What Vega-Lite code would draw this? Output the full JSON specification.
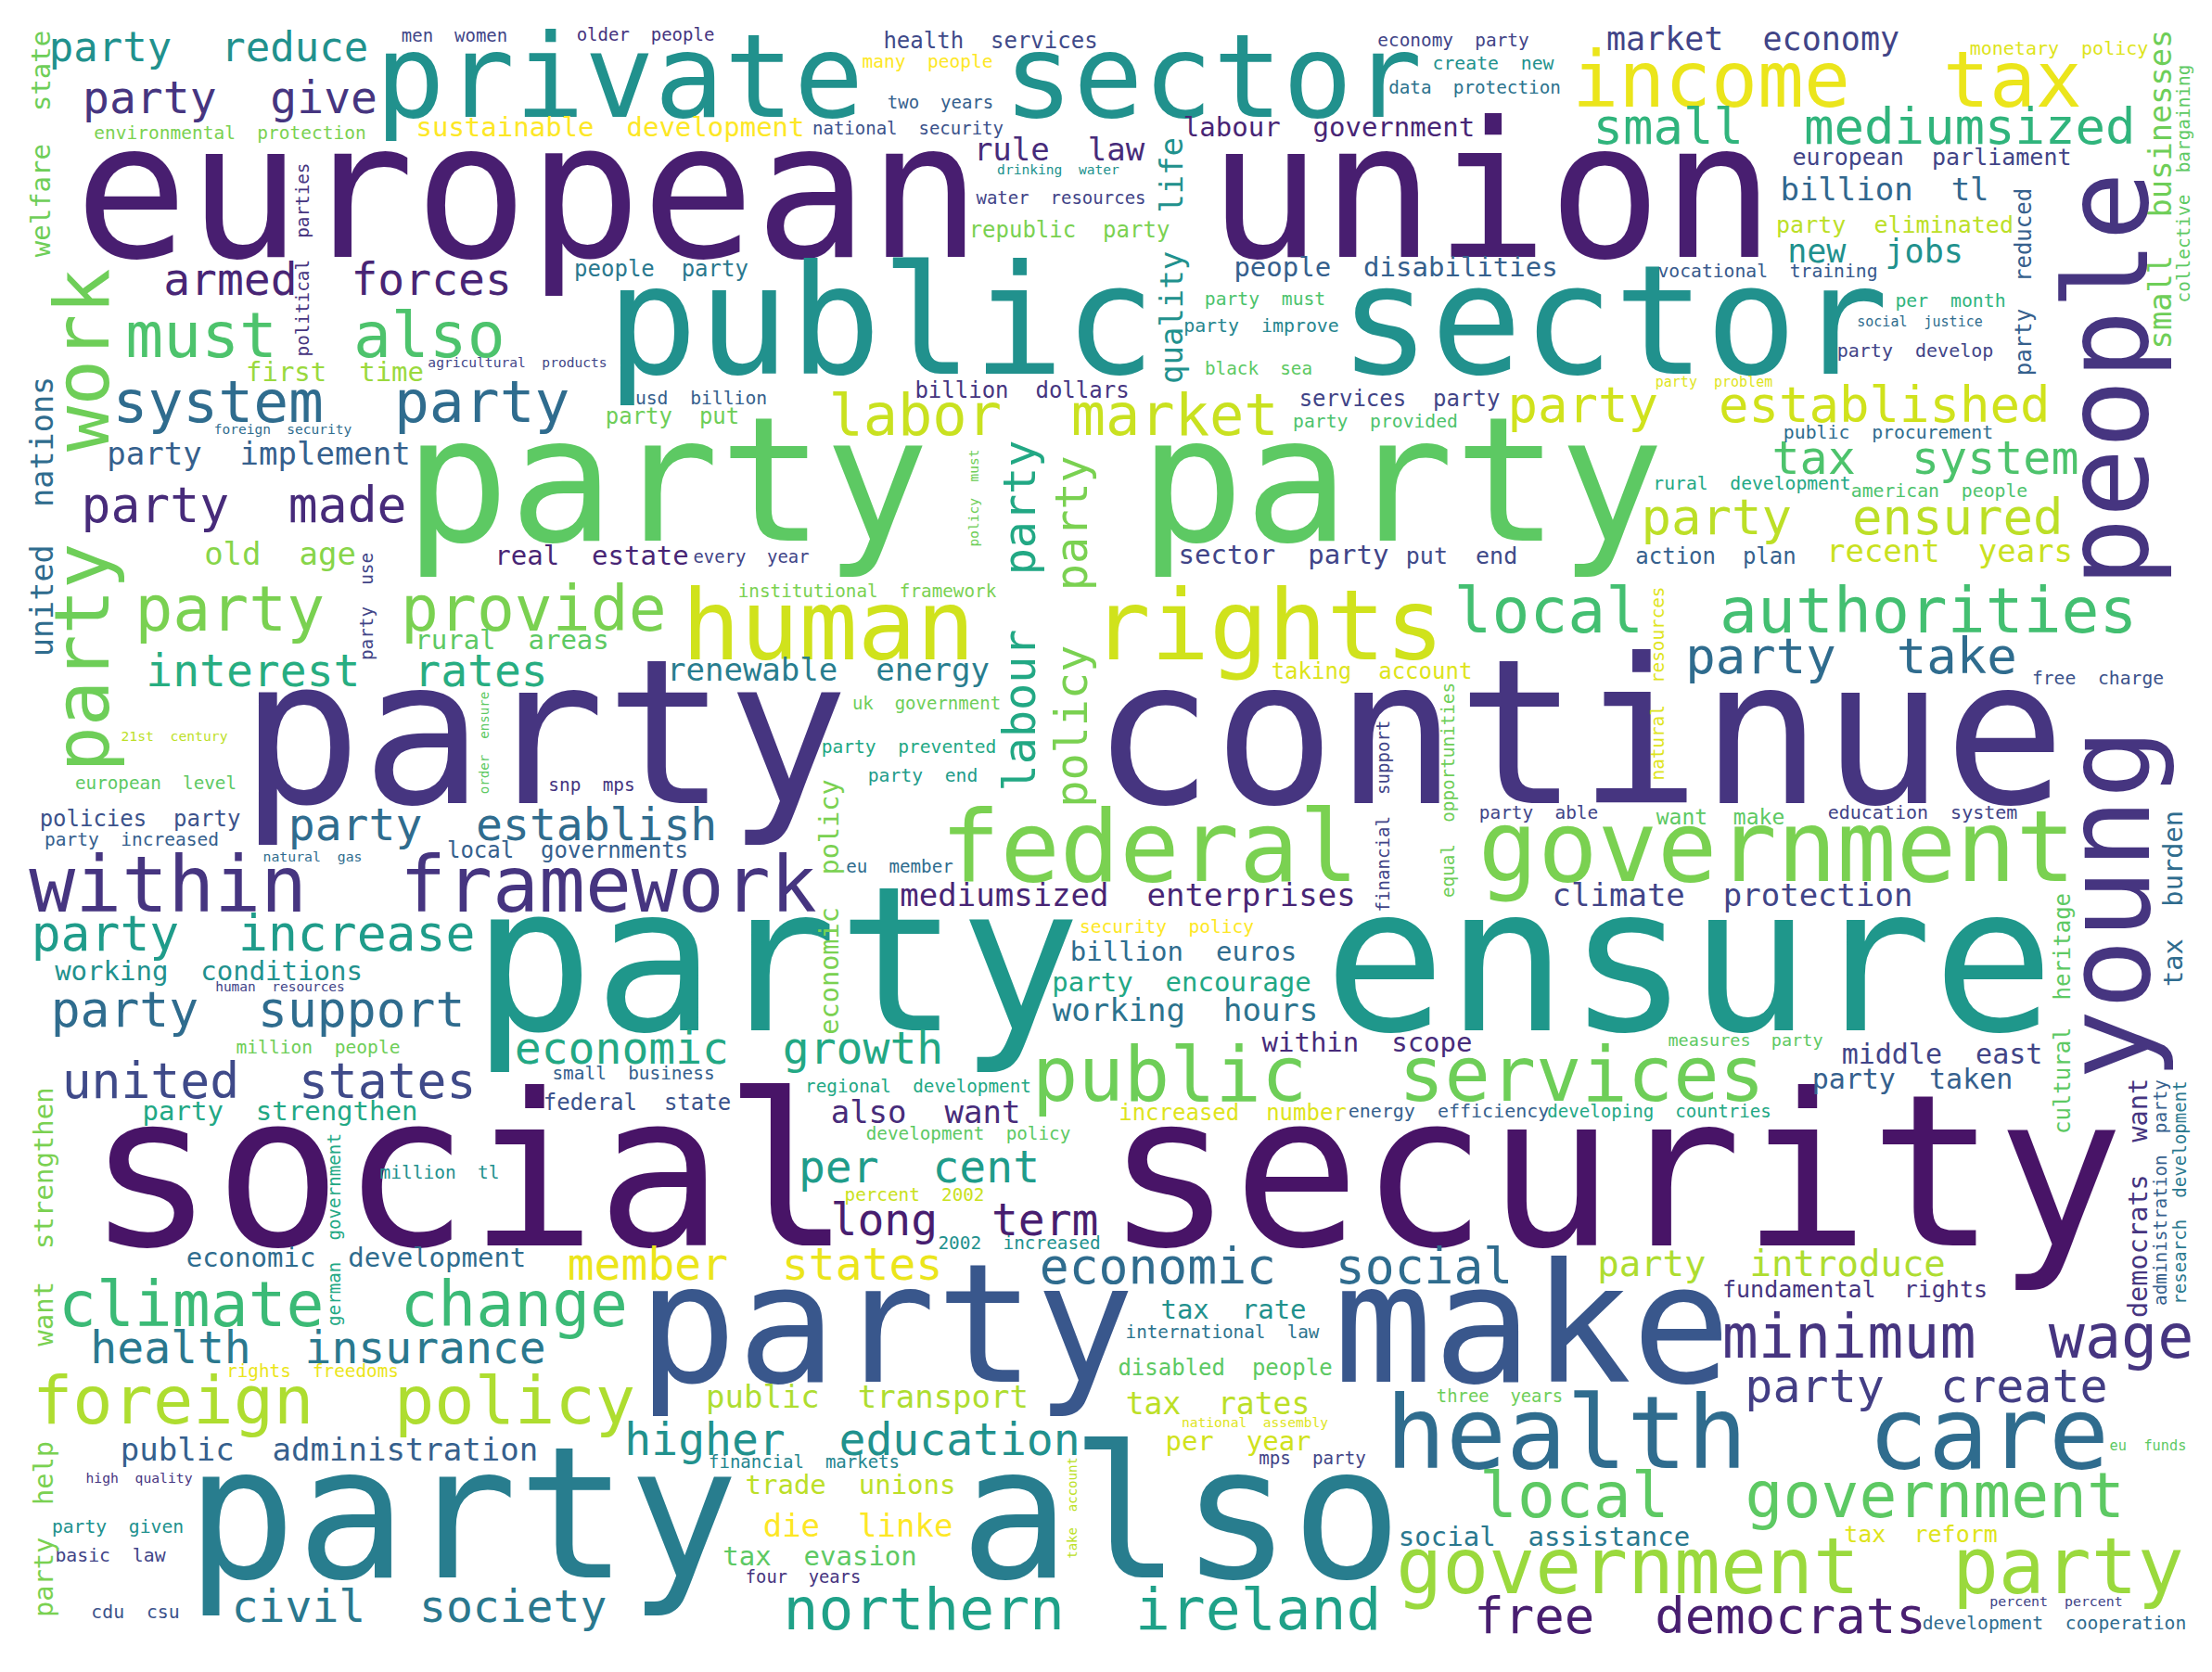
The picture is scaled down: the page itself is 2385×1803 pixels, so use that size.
{
  "$schema": "https://vega.github.io/schema/vega-lite/v6.json",
  "width": 2385,
  "height": 1803,
  "padding": 0,
  "autosize": "none",
  "background": "white",
  "data": {
    "values": [
      {"t": "european\u00a0\u00a0union", "x": 997, "y": 277, "s": 203, "c": 0.08, "r": 0},
      {"t": "private\u00a0\u00a0sector", "x": 969, "y": 126, "s": 125, "c": 0.5, "r": 0},
      {"t": "public\u00a0\u00a0sector", "x": 1345, "y": 403, "s": 164, "c": 0.5, "r": 0},
      {"t": "party\u00a0\u00a0party", "x": 1115, "y": 583, "s": 188, "c": 0.75, "r": 0},
      {"t": "party\u00a0\u00a0continue", "x": 1243, "y": 866, "s": 218, "c": 0.15, "r": 0},
      {"t": "party\u00a0\u00a0ensure", "x": 1362, "y": 1111, "s": 218, "c": 0.53, "r": 0},
      {"t": "social\u00a0\u00a0security", "x": 1192, "y": 1343, "s": 228, "c": 0.05, "r": 0},
      {"t": "party\u00a0\u00a0make", "x": 1277, "y": 1490, "s": 178, "c": 0.27, "r": 0},
      {"t": "party\u00a0\u00a0also", "x": 856, "y": 1701, "s": 198, "c": 0.42, "r": 0},
      {"t": "human\u00a0\u00a0rights", "x": 1146, "y": 711, "s": 105, "c": 0.93, "r": 0},
      {"t": "federal\u00a0\u00a0government", "x": 1626, "y": 950, "s": 107, "c": 0.8, "r": 0},
      {"t": "health\u00a0\u00a0care", "x": 1884, "y": 1583, "s": 108, "c": 0.35, "r": 0},
      {"t": "public\u00a0\u00a0services", "x": 1508, "y": 1187, "s": 82, "c": 0.78, "r": 0},
      {"t": "government\u00a0\u00a0party", "x": 1930, "y": 1718, "s": 83, "c": 0.85, "r": 0},
      {"t": "income\u00a0\u00a0tax", "x": 1970, "y": 115, "s": 83, "c": 0.97, "r": 0},
      {"t": "within\u00a0\u00a0framework", "x": 456, "y": 983, "s": 83, "c": 0.15, "r": 0},
      {"t": "foreign\u00a0\u00a0policy", "x": 360, "y": 1535, "s": 72, "c": 0.88, "r": 0},
      {"t": "minimum\u00a0\u00a0wage", "x": 2111, "y": 1464, "s": 65, "c": 0.15, "r": 0},
      {"t": "local\u00a0\u00a0government", "x": 1943, "y": 1636, "s": 68, "c": 0.75, "r": 0},
      {"t": "local\u00a0\u00a0authorities", "x": 1936, "y": 682, "s": 68, "c": 0.7, "r": 0},
      {"t": "party\u00a0\u00a0provide", "x": 432, "y": 680, "s": 68, "c": 0.8, "r": 0},
      {"t": "must\u00a0\u00a0also", "x": 340, "y": 385, "s": 68, "c": 0.72, "r": 0},
      {"t": "climate\u00a0\u00a0change", "x": 370, "y": 1430, "s": 68, "c": 0.68, "r": 0},
      {"t": "northern\u00a0\u00a0ireland", "x": 1167, "y": 1757, "s": 63, "c": 0.57, "r": 0},
      {"t": "system\u00a0\u00a0party", "x": 368, "y": 455, "s": 63, "c": 0.35, "r": 0},
      {"t": "labor\u00a0\u00a0market", "x": 1136, "y": 469, "s": 62, "c": 0.92, "r": 0},
      {"t": "free\u00a0\u00a0democrats", "x": 1833, "y": 1761, "s": 54, "c": 0.08, "r": 0},
      {"t": "party\u00a0\u00a0introduce", "x": 1910, "y": 1376, "s": 39, "c": 0.88, "r": 0},
      {"t": "party\u00a0\u00a0create", "x": 2077, "y": 1512, "s": 50, "c": 0.18, "r": 0},
      {"t": "party\u00a0\u00a0ensured", "x": 1997, "y": 576, "s": 54, "c": 0.9, "r": 0},
      {"t": "party\u00a0\u00a0established", "x": 1918, "y": 455, "s": 54, "c": 0.93, "r": 0},
      {"t": "small\u00a0\u00a0mediumsized", "x": 2010, "y": 155, "s": 54, "c": 0.65, "r": 0},
      {"t": "tax\u00a0\u00a0system", "x": 2076, "y": 511, "s": 50, "c": 0.72, "r": 0},
      {"t": "party\u00a0\u00a0take", "x": 1996, "y": 726, "s": 54, "c": 0.35, "r": 0},
      {"t": "party\u00a0\u00a0increase", "x": 273, "y": 1025, "s": 53, "c": 0.55, "r": 0},
      {"t": "party\u00a0\u00a0support", "x": 278, "y": 1107, "s": 53, "c": 0.35, "r": 0},
      {"t": "united\u00a0\u00a0states", "x": 290, "y": 1184, "s": 53, "c": 0.22, "r": 0},
      {"t": "economic\u00a0\u00a0social", "x": 1376, "y": 1384, "s": 53, "c": 0.35, "r": 0},
      {"t": "party\u00a0\u00a0made", "x": 263, "y": 563, "s": 53, "c": 0.12, "r": 0},
      {"t": "interest\u00a0\u00a0rates", "x": 374, "y": 740, "s": 48, "c": 0.62, "r": 0},
      {"t": "party\u00a0\u00a0establish", "x": 542, "y": 906, "s": 48, "c": 0.35, "r": 0},
      {"t": "economic\u00a0\u00a0growth", "x": 786, "y": 1147, "s": 48, "c": 0.6, "r": 0},
      {"t": "armed\u00a0\u00a0forces", "x": 364, "y": 318, "s": 48, "c": 0.1, "r": 0},
      {"t": "party\u00a0\u00a0give", "x": 248, "y": 122, "s": 48, "c": 0.15, "r": 0},
      {"t": "health\u00a0\u00a0insurance", "x": 343, "y": 1470, "s": 48, "c": 0.4, "r": 0},
      {"t": "civil\u00a0\u00a0society", "x": 452, "y": 1749, "s": 48, "c": 0.4, "r": 0},
      {"t": "per\u00a0\u00a0cent", "x": 991, "y": 1275, "s": 48, "c": 0.55, "r": 0},
      {"t": "long\u00a0\u00a0term", "x": 1040, "y": 1332, "s": 48, "c": 0.08, "r": 0},
      {"t": "member\u00a0\u00a0states", "x": 814, "y": 1380, "s": 48, "c": 0.97, "r": 0},
      {"t": "higher\u00a0\u00a0education", "x": 919, "y": 1569, "s": 48, "c": 0.5, "r": 0},
      {"t": "party\u00a0\u00a0reduce", "x": 225, "y": 66, "s": 44, "c": 0.5, "r": 0},
      {"t": "market\u00a0\u00a0economy", "x": 1890, "y": 54, "s": 35, "c": 0.2, "r": 0},
      {"t": "billion\u00a0\u00a0tl", "x": 2032, "y": 216, "s": 34, "c": 0.33, "r": 0},
      {"t": "new\u00a0\u00a0jobs", "x": 2022, "y": 283, "s": 35, "c": 0.5, "r": 0},
      {"t": "recent\u00a0\u00a0years", "x": 2102, "y": 606, "s": 34, "c": 0.92, "r": 0},
      {"t": "rule\u00a0\u00a0law", "x": 1142, "y": 173, "s": 34, "c": 0.12, "r": 0},
      {"t": "renewable\u00a0\u00a0energy", "x": 893, "y": 734, "s": 34, "c": 0.42, "r": 0},
      {"t": "mediumsized\u00a0\u00a0enterprises", "x": 1216, "y": 977, "s": 34, "c": 0.1, "r": 0},
      {"t": "climate\u00a0\u00a0protection", "x": 1868, "y": 977, "s": 34, "c": 0.2, "r": 0},
      {"t": "working\u00a0\u00a0hours", "x": 1278, "y": 1101, "s": 34, "c": 0.38, "r": 0},
      {"t": "also\u00a0\u00a0want", "x": 998, "y": 1211, "s": 34, "c": 0.12, "r": 0},
      {"t": "public\u00a0\u00a0transport", "x": 935, "y": 1518, "s": 34, "c": 0.88, "r": 0},
      {"t": "die\u00a0\u00a0linke", "x": 925, "y": 1657, "s": 34, "c": 1.0, "r": 0},
      {"t": "tax\u00a0\u00a0rates", "x": 1313, "y": 1525, "s": 33, "c": 0.9, "r": 0},
      {"t": "public\u00a0\u00a0administration", "x": 355, "y": 1575, "s": 34, "c": 0.3, "r": 0},
      {"t": "party\u00a0\u00a0implement", "x": 279, "y": 501, "s": 34, "c": 0.3, "r": 0},
      {"t": "old\u00a0\u00a0age", "x": 302, "y": 609, "s": 34, "c": 0.82, "r": 0},
      {"t": "sustainable\u00a0\u00a0development", "x": 658, "y": 147, "s": 29, "c": 1.0, "r": 0},
      {"t": "labour\u00a0\u00a0government", "x": 1433, "y": 147, "s": 29, "c": 0.1, "r": 0},
      {"t": "first\u00a0\u00a0time", "x": 361, "y": 411, "s": 29, "c": 0.85, "r": 0},
      {"t": "real\u00a0\u00a0estate", "x": 638, "y": 609, "s": 29, "c": 0.1, "r": 0},
      {"t": "people\u00a0\u00a0disabilities", "x": 1505, "y": 298, "s": 29, "c": 0.3, "r": 0},
      {"t": "rural\u00a0\u00a0areas", "x": 552, "y": 700, "s": 29, "c": 0.75, "r": 0},
      {"t": "working\u00a0\u00a0conditions", "x": 225, "y": 1057, "s": 29, "c": 0.5, "r": 0},
      {"t": "billion\u00a0\u00a0euros", "x": 1276, "y": 1036, "s": 29, "c": 0.35, "r": 0},
      {"t": "party\u00a0\u00a0encourage", "x": 1274, "y": 1069, "s": 29, "c": 0.6, "r": 0},
      {"t": "within\u00a0\u00a0scope", "x": 1474, "y": 1134, "s": 29, "c": 0.12, "r": 0},
      {"t": "middle\u00a0\u00a0east", "x": 2094, "y": 1147, "s": 30, "c": 0.2, "r": 0},
      {"t": "party\u00a0\u00a0taken", "x": 2062, "y": 1174, "s": 30, "c": 0.3, "r": 0},
      {"t": "party\u00a0\u00a0strengthen", "x": 302, "y": 1208, "s": 29, "c": 0.6, "r": 0},
      {"t": "economic\u00a0\u00a0development", "x": 384, "y": 1366, "s": 29, "c": 0.35, "r": 0},
      {"t": "trade\u00a0\u00a0unions", "x": 917, "y": 1611, "s": 29, "c": 0.9, "r": 0},
      {"t": "tax\u00a0\u00a0evasion", "x": 884, "y": 1688, "s": 29, "c": 0.75, "r": 0},
      {"t": "tax\u00a0\u00a0rate", "x": 1330, "y": 1422, "s": 29, "c": 0.5, "r": 0},
      {"t": "per\u00a0\u00a0year", "x": 1335, "y": 1564, "s": 29, "c": 0.93, "r": 0},
      {"t": "social\u00a0\u00a0assistance", "x": 1665, "y": 1667, "s": 29, "c": 0.4, "r": 0},
      {"t": "sector\u00a0\u00a0party", "x": 1384, "y": 608, "s": 29, "c": 0.2, "r": 0},
      {"t": "federal\u00a0\u00a0state", "x": 687, "y": 1197, "s": 24, "c": 0.25, "r": 0},
      {"t": "health\u00a0\u00a0services", "x": 1068, "y": 52, "s": 24, "c": 0.22, "r": 0},
      {"t": "republic\u00a0\u00a0party", "x": 1153, "y": 256, "s": 24, "c": 0.8, "r": 0},
      {"t": "people\u00a0\u00a0party", "x": 713, "y": 298, "s": 24, "c": 0.4, "r": 0},
      {"t": "billion\u00a0\u00a0dollars", "x": 1102, "y": 429, "s": 24, "c": 0.15, "r": 0},
      {"t": "party\u00a0\u00a0put", "x": 725, "y": 457, "s": 24, "c": 0.78, "r": 0},
      {"t": "services\u00a0\u00a0party", "x": 1509, "y": 438, "s": 24, "c": 0.2, "r": 0},
      {"t": "european\u00a0\u00a0parliament", "x": 2083, "y": 178, "s": 25, "c": 0.2, "r": 0},
      {"t": "party\u00a0\u00a0eliminated", "x": 2043, "y": 251, "s": 25, "c": 0.9, "r": 0},
      {"t": "put\u00a0\u00a0end", "x": 1576, "y": 608, "s": 25, "c": 0.22, "r": 0},
      {"t": "action\u00a0\u00a0plan", "x": 1850, "y": 608, "s": 24, "c": 0.3, "r": 0},
      {"t": "taking\u00a0\u00a0account", "x": 1479, "y": 732, "s": 24, "c": 0.95, "r": 0},
      {"t": "fundamental\u00a0\u00a0rights", "x": 2000, "y": 1399, "s": 25, "c": 0.15, "r": 0},
      {"t": "tax\u00a0\u00a0reform", "x": 2071, "y": 1663, "s": 25, "c": 0.95, "r": 0},
      {"t": "disabled\u00a0\u00a0people", "x": 1321, "y": 1483, "s": 24, "c": 0.75, "r": 0},
      {"t": "local\u00a0\u00a0governments", "x": 612, "y": 925, "s": 24, "c": 0.3, "r": 0},
      {"t": "policies\u00a0\u00a0party", "x": 151, "y": 891, "s": 24, "c": 0.25, "r": 0},
      {"t": "increased\u00a0\u00a0number", "x": 1329, "y": 1208, "s": 24, "c": 0.95, "r": 0},
      {"t": "want\u00a0\u00a0make", "x": 1855, "y": 889, "s": 23, "c": 0.75, "r": 0},
      {"t": "small\u00a0\u00a0business", "x": 683, "y": 1164, "s": 19.4, "c": 0.3, "r": 0},
      {"t": "men\u00a0\u00a0women", "x": 490, "y": 45, "s": 19, "c": 0.2, "r": 0},
      {"t": "environmental\u00a0\u00a0protection", "x": 248, "y": 150, "s": 19.5, "c": 0.8, "r": 0},
      {"t": "older\u00a0\u00a0people", "x": 696, "y": 44, "s": 19, "c": 0.15, "r": 0},
      {"t": "many\u00a0\u00a0people", "x": 1000, "y": 73, "s": 19.5, "c": 1.0, "r": 0},
      {"t": "two\u00a0\u00a0years", "x": 1014, "y": 117, "s": 19, "c": 0.3, "r": 0},
      {"t": "national\u00a0\u00a0security", "x": 979, "y": 145, "s": 19, "c": 0.25, "r": 0},
      {"t": "water\u00a0\u00a0resources", "x": 1144, "y": 220, "s": 19, "c": 0.2, "r": 0},
      {"t": "drinking\u00a0\u00a0water", "x": 1141, "y": 188, "s": 14.6, "c": 0.5, "r": 0},
      {"t": "usd\u00a0\u00a0billion", "x": 756, "y": 436, "s": 19.7, "c": 0.3, "r": 0},
      {"t": "economy\u00a0\u00a0party", "x": 1567, "y": 50, "s": 19.4, "c": 0.2, "r": 0},
      {"t": "create\u00a0\u00a0new", "x": 1610, "y": 75, "s": 19.8, "c": 0.5, "r": 0},
      {"t": "data\u00a0\u00a0protection", "x": 1590, "y": 101, "s": 19.3, "c": 0.38, "r": 0},
      {"t": "party\u00a0\u00a0must", "x": 1364, "y": 329, "s": 19.7, "c": 0.72, "r": 0},
      {"t": "party\u00a0\u00a0improve", "x": 1360, "y": 358, "s": 19.9, "c": 0.45, "r": 0},
      {"t": "black\u00a0\u00a0sea", "x": 1357, "y": 404, "s": 19.3, "c": 0.75, "r": 0},
      {"t": "party\u00a0\u00a0provided", "x": 1483, "y": 461, "s": 19.7, "c": 0.72, "r": 0},
      {"t": "monetary\u00a0\u00a0policy", "x": 2220, "y": 59, "s": 20, "c": 0.95, "r": 0},
      {"t": "vocational\u00a0\u00a0training", "x": 1906, "y": 299, "s": 19.7, "c": 0.28, "r": 0},
      {"t": "per\u00a0\u00a0month", "x": 2103, "y": 331, "s": 19.8, "c": 0.65, "r": 0},
      {"t": "party\u00a0\u00a0develop", "x": 2065, "y": 385, "s": 20, "c": 0.2, "r": 0},
      {"t": "public\u00a0\u00a0procurement", "x": 2036, "y": 473, "s": 19.8, "c": 0.35, "r": 0},
      {"t": "rural\u00a0\u00a0development", "x": 1889, "y": 528, "s": 19.7, "c": 0.6, "r": 0},
      {"t": "american\u00a0\u00a0people", "x": 2091, "y": 536, "s": 19.8, "c": 0.72, "r": 0},
      {"t": "institutional\u00a0\u00a0framework", "x": 935, "y": 644, "s": 19.3, "c": 0.8, "r": 0},
      {"t": "uk\u00a0\u00a0government", "x": 999, "y": 765, "s": 19, "c": 0.78, "r": 0},
      {"t": "party\u00a0\u00a0prevented", "x": 980, "y": 812, "s": 19.6, "c": 0.6, "r": 0},
      {"t": "party\u00a0\u00a0end", "x": 995, "y": 843, "s": 19.7, "c": 0.55, "r": 0},
      {"t": "snp\u00a0\u00a0mps", "x": 638, "y": 853, "s": 19.4, "c": 0.15, "r": 0},
      {"t": "eu\u00a0\u00a0member", "x": 970, "y": 941, "s": 19.2, "c": 0.35, "r": 0},
      {"t": "security\u00a0\u00a0policy", "x": 1258, "y": 1006, "s": 19.5, "c": 1.0, "r": 0},
      {"t": "party\u00a0\u00a0able", "x": 1659, "y": 883, "s": 19.4, "c": 0.2, "r": 0},
      {"t": "education\u00a0\u00a0system", "x": 2073, "y": 883, "s": 20, "c": 0.2, "r": 0},
      {"t": "free\u00a0\u00a0charge", "x": 2262, "y": 738, "s": 19.7, "c": 0.25, "r": 0},
      {"t": "party\u00a0\u00a0increased", "x": 142, "y": 912, "s": 19.5, "c": 0.3, "r": 0},
      {"t": "european\u00a0\u00a0level", "x": 168, "y": 851, "s": 19.3, "c": 0.75, "r": 0},
      {"t": "million\u00a0\u00a0people", "x": 343, "y": 1136, "s": 19.6, "c": 0.78, "r": 0},
      {"t": "regional\u00a0\u00a0development", "x": 990, "y": 1178, "s": 19.3, "c": 0.6, "r": 0},
      {"t": "energy\u00a0\u00a0efficiency", "x": 1562, "y": 1205, "s": 20, "c": 0.3, "r": 0},
      {"t": "developing\u00a0\u00a0countries", "x": 1789, "y": 1205, "s": 19.1, "c": 0.6, "r": 0},
      {"t": "measures\u00a0\u00a0party", "x": 1882, "y": 1128, "s": 18.5, "c": 0.75, "r": 0},
      {"t": "development\u00a0\u00a0policy", "x": 1044, "y": 1229, "s": 19.3, "c": 0.75, "r": 0},
      {"t": "percent\u00a0\u00a02002", "x": 986, "y": 1295, "s": 19.3, "c": 0.92, "r": 0},
      {"t": "2002\u00a0\u00a0increased", "x": 1099, "y": 1347, "s": 19.4, "c": 0.5, "r": 0},
      {"t": "financial\u00a0\u00a0markets", "x": 867, "y": 1583, "s": 19, "c": 0.45, "r": 0},
      {"t": "four\u00a0\u00a0years", "x": 866, "y": 1707, "s": 18.8, "c": 0.15, "r": 0},
      {"t": "international\u00a0\u00a0law", "x": 1318, "y": 1443, "s": 19.3, "c": 0.38, "r": 0},
      {"t": "three\u00a0\u00a0years", "x": 1617, "y": 1512, "s": 18.9, "c": 0.78, "r": 0},
      {"t": "mps\u00a0\u00a0party", "x": 1415, "y": 1579, "s": 19.2, "c": 0.2, "r": 0},
      {"t": "million\u00a0\u00a0tl", "x": 474, "y": 1271, "s": 19.5, "c": 0.5, "r": 0},
      {"t": "rights\u00a0\u00a0freedoms", "x": 337, "y": 1485, "s": 19.3, "c": 0.97, "r": 0},
      {"t": "party\u00a0\u00a0given", "x": 127, "y": 1653, "s": 19.7, "c": 0.5, "r": 0},
      {"t": "basic\u00a0\u00a0law", "x": 119, "y": 1684, "s": 19.8, "c": 0.2, "r": 0},
      {"t": "cdu\u00a0\u00a0csu", "x": 146, "y": 1745, "s": 19.8, "c": 0.25, "r": 0},
      {"t": "development\u00a0\u00a0cooperation", "x": 2215, "y": 1757, "s": 19.7, "c": 0.35, "r": 0},
      {"t": "every\u00a0\u00a0year", "x": 810, "y": 607, "s": 18.9, "c": 0.2, "r": 0},
      {"t": "agricultural\u00a0\u00a0products", "x": 558, "y": 396, "s": 14.6, "c": 0.2, "r": 0},
      {"t": "foreign\u00a0\u00a0security", "x": 305, "y": 468, "s": 14.5, "c": 0.35, "r": 0},
      {"t": "21st\u00a0\u00a0century", "x": 188, "y": 799, "s": 14.7, "c": 0.9, "r": 0},
      {"t": "natural\u00a0\u00a0gas", "x": 337, "y": 929, "s": 14.8, "c": 0.35, "r": 0},
      {"t": "human\u00a0\u00a0resources", "x": 302, "y": 1069, "s": 14.5, "c": 0.2, "r": 0},
      {"t": "high\u00a0\u00a0quality", "x": 150, "y": 1599, "s": 14.7, "c": 0.15, "r": 0},
      {"t": "national\u00a0\u00a0assembly", "x": 1353, "y": 1539, "s": 14.6, "c": 0.95, "r": 0},
      {"t": "social\u00a0\u00a0justice", "x": 2070, "y": 352, "s": 15, "c": 0.35, "r": 0},
      {"t": "party\u00a0\u00a0problem", "x": 1848, "y": 417, "s": 15, "c": 0.95, "r": 0},
      {"t": "eu\u00a0\u00a0funds", "x": 2316, "y": 1564, "s": 15.3, "c": 0.75, "r": 0},
      {"t": "percent\u00a0\u00a0percent", "x": 2217, "y": 1732, "s": 14.9, "c": 0.2, "r": 0},
      {"t": "welfare\u00a0\u00a0state", "x": 54, "y": 155, "s": 29, "c": 0.78, "r": 270},
      {"t": "political\u00a0\u00a0parties", "x": 333, "y": 280, "s": 19.3, "c": 0.15, "r": 270},
      {"t": "party\u00a0\u00a0work", "x": 117, "y": 561, "s": 82, "c": 0.78, "r": 270},
      {"t": "united\u00a0\u00a0nations", "x": 57, "y": 557, "s": 33.5, "c": 0.35, "r": 270},
      {"t": "quality\u00a0\u00a0life", "x": 1275, "y": 281, "s": 34, "c": 0.5, "r": 270},
      {"t": "small\u00a0\u00a0businesses", "x": 2341, "y": 204, "s": 33.7, "c": 0.78, "r": 270},
      {"t": "collective\u00a0\u00a0bargaining", "x": 2361, "y": 198, "s": 19.4, "c": 0.75, "r": 270},
      {"t": "party\u00a0\u00a0reduced", "x": 2190, "y": 304, "s": 24, "c": 0.3, "r": 270},
      {"t": "labour\u00a0\u00a0party", "x": 1116, "y": 664, "s": 48.4, "c": 0.6, "r": 270},
      {"t": "policy\u00a0\u00a0party", "x": 1172, "y": 681, "s": 48.5, "c": 0.8, "r": 270},
      {"t": "economic\u00a0\u00a0policy", "x": 904, "y": 978, "s": 28.6, "c": 0.8, "r": 270},
      {"t": "party\u00a0\u00a0use", "x": 402, "y": 654, "s": 19.3, "c": 0.2, "r": 270},
      {"t": "order\u00a0\u00a0ensure", "x": 527, "y": 801, "s": 14.1, "c": 0.75, "r": 270},
      {"t": "policy\u00a0\u00a0must", "x": 1055, "y": 537, "s": 14.5, "c": 0.78, "r": 270},
      {"t": "natural\u00a0\u00a0resources", "x": 1794, "y": 737, "s": 19.3, "c": 0.95, "r": 270},
      {"t": "equal\u00a0\u00a0opportunities", "x": 1568, "y": 852, "s": 19.3, "c": 0.78, "r": 270},
      {"t": "financial\u00a0\u00a0support", "x": 1498, "y": 880, "s": 19.1, "c": 0.2, "r": 270},
      {"t": "people", "x": 2315, "y": 409, "s": 124, "c": 0.15, "r": 270},
      {"t": "young", "x": 2317, "y": 975, "s": 126, "c": 0.15, "r": 270},
      {"t": "cultural\u00a0\u00a0heritage", "x": 2232, "y": 1093, "s": 24, "c": 0.75, "r": 270},
      {"t": "tax\u00a0\u00a0burden", "x": 2353, "y": 969, "s": 28.7, "c": 0.35, "r": 270},
      {"t": "democrats\u00a0\u00a0want", "x": 2315, "y": 1292, "s": 28.6, "c": 0.15, "r": 270},
      {"t": "administration\u00a0\u00a0party", "x": 2336, "y": 1286, "s": 19.3, "c": 0.3, "r": 270},
      {"t": "research\u00a0\u00a0development", "x": 2357, "y": 1286, "s": 19.1, "c": 0.4, "r": 270},
      {"t": "want\u00a0\u00a0strengthen", "x": 57, "y": 1312, "s": 29, "c": 0.8, "r": 270},
      {"t": "party\u00a0\u00a0help", "x": 57, "y": 1649, "s": 28.7, "c": 0.8, "r": 270},
      {"t": "german\u00a0\u00a0government", "x": 367, "y": 1326, "s": 19.2, "c": 0.6, "r": 270},
      {"t": "take\u00a0\u00a0account", "x": 1161, "y": 1626, "s": 14, "c": 0.9, "r": 270}
    ]
  },
  "mark": {
    "type": "text",
    "font": "DejaVu Sans Mono",
    "align": "center",
    "baseline": "alphabetic"
  },
  "encoding": {
    "x": {"field": "x", "type": "quantitative", "scale": {"domain": [0, 2385], "nice": false, "zero": false}, "axis": null},
    "y": {"field": "y", "type": "quantitative", "scale": {"domain": [0, 1803], "nice": false, "zero": false, "reverse": true}, "axis": null},
    "size": {"field": "s", "type": "quantitative", "scale": {"domain": [0, 250], "range": [0, 250], "zero": true}, "legend": null},
    "angle": {"field": "r", "type": "quantitative", "scale": {"domain": [0, 360], "range": [0, 360]}, "legend": null},
    "color": {"field": "c", "type": "quantitative", "scale": {"scheme": "viridis", "domain": [0, 1]}, "legend": null},
    "text": {"field": "t"}
  },
  "config": {
    "view": {"stroke": null}
  }
}
